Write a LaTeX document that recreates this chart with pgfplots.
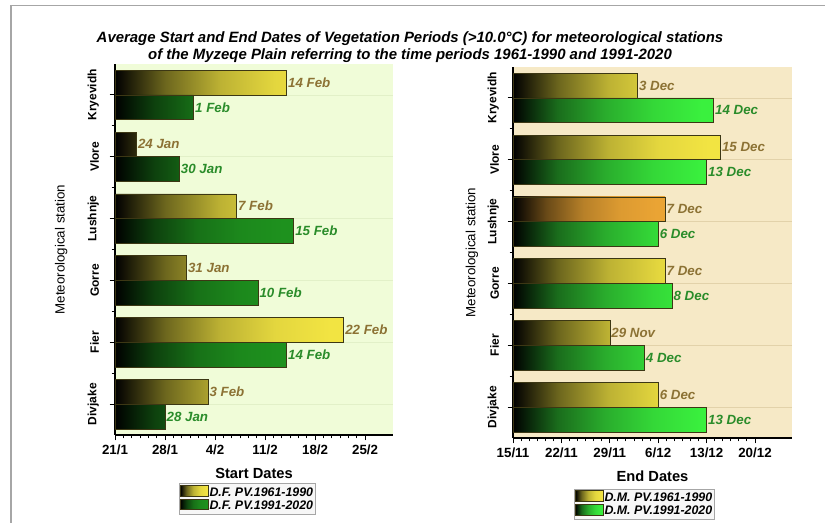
\documentclass[border=0pt]{standalone}
\usepackage{pgfplots}
\pgfplotsset{compat=1.18}
\usepackage{fontspec}
\setmainfont{Liberation Sans}

\definecolor{bgL}{RGB}{240,252,216}
\definecolor{bgR}{RGB}{246,233,198}
\definecolor{gridL}{RGB}{226,240,200}
\definecolor{gridR}{RGB}{226,210,170}
\definecolor{yel}{RGB}{242,228,66}
\definecolor{dgreen}{RGB}{30,145,30}
\definecolor{lgreen}{RGB}{58,240,62}
\definecolor{orng}{RGB}{234,164,52}
\definecolor{lblB}{RGB}{140,114,52}
\definecolor{lblG}{RGB}{42,140,42}
\definecolor{edge}{RGB}{60,55,20}

% black on the left, the colour over most of the bar
\pgfdeclarehorizontalshading{yshade}{100bp}{color(0bp)=(black); color(25bp)=(black); color(36bp)=(yel!45!black); color(48bp)=(yel!78!black); color(60bp)=(yel!94!black); color(72bp)=(yel); color(100bp)=(yel)}
\pgfdeclarehorizontalshading{gshade}{100bp}{color(0bp)=(black); color(25bp)=(black); color(36bp)=(dgreen!45!black); color(48bp)=(dgreen!78!black); color(60bp)=(dgreen!94!black); color(72bp)=(dgreen); color(100bp)=(dgreen)}
\pgfdeclarehorizontalshading{lgshade}{100bp}{color(0bp)=(black); color(25bp)=(black); color(36bp)=(lgreen!45!black); color(48bp)=(lgreen!72!black); color(60bp)=(lgreen!90!black); color(72bp)=(lgreen); color(100bp)=(lgreen)}
\pgfdeclarehorizontalshading{oshade}{100bp}{color(0bp)=(black); color(25bp)=(black); color(36bp)=(orng!45!black); color(48bp)=(orng!78!black); color(60bp)=(orng!94!black); color(72bp)=(orng); color(100bp)=(orng)}

\pgfplotsset{
  vegbase/.style={
    scale only axis, width=208.5pt, height=278.25pt,
    xbar, bar width=0.4,
    ymin=-0.5, ymax=5.5,
    ytick={0,...,5},
    yticklabels={Divjake,Fier,Gorre,Lushnje,Vlore,Kryevidh},
    minor y tick num=1,
    xmin=0, xtick={0,7,...,35}, minor x tick num=5,
    axis x line*=bottom, axis y line*=left,
    axis line style={line width=0.8pt,-},
    tick align=outside, major tick length=4pt, minor tick length=2.5pt,
    every tick/.style={black,line width=0.7pt},
    ymajorgrids,
    x tick label style={font=\bfseries\fontsize{10}{12}\selectfont},
    y tick label style={rotate=90, anchor=south, font=\bfseries\fontsize{9}{11}\selectfont},
    ylabel={Meteorological station},
    ylabel style={font=\fontsize{10}{12}\selectfont},
    xlabel style={font=\bfseries\fontsize{11}{13}\selectfont},
    legend style={anchor=center, draw=gray!70, fill=gray!6,
      font=\bfseries\itshape\fontsize{9.3}{10}\selectfont,
      inner sep=1pt, row sep=0pt, nodes={inner sep=0.6pt}, cells={anchor=west}},
    legend image code/.code={\draw[##1] (0pt,-2.5pt) rectangle (21pt,5.5pt);},
    nodes near coords, point meta=explicit symbolic,
    every node near coord/.append style={anchor=west, font=\bfseries\itshape\fontsize{10}{12}\selectfont, inner sep=1pt},
    clip=false,
  },
  oldbar/.style={bar shift=0.2, draw=edge, shade, shading=#1,
    every node near coord/.append style={text=lblB}},
  newbar/.style={bar shift=-0.2, draw=edge, shade, shading=#1,
    every node near coord/.append style={text=lblG}},
}

\begin{document}
\begin{tikzpicture}
\path[use as bounding box] (0,0) rectangle (618.75pt,392.25pt);
\draw[gray!70, line width=0.8pt] (8.25pt,0) -- (8.25pt,388pt) -- (618.75pt,388pt);
\node[align=center, font=\bfseries\itshape\fontsize{11.2}{12.6}\selectfont] at (307.5pt,356.8pt)
  {Average Start and End Dates of Vegetation Periods (>10.0\textdegree C) for meteorological stations\\
   of the Myzeqe Plain referring to the time periods 1961-1990 and 1991-2020};

% Start dates, days after 21 Jan
\begin{axis}[vegbase,
    at={(86.25pt,66pt)}, anchor=south west,
    xmax=38.9,
    xticklabels={21/1,28/1,4/2,11/2,18/2,25/2},
    y tick label style={yshift=4.5pt},
    axis background/.style={fill=bgL},
    grid style={gridL, line width=0.6pt},
    xlabel={Start Dates},
    xlabel style={at={(axis description cs:0.5,-0.105)}, anchor=center},
    ylabel style={at={(axis description cs:-0.194,0.5)}, anchor=center},
    legend style={at={(0.475,-0.172)}},
]
\addplot[oldbar=yshade]
  coordinates {(13,0) [3 Feb] (32,1) [22 Feb] (10,2) [31 Jan] (17,3) [7 Feb] (3,4) [24 Jan] (24,5) [14 Feb]};
\addlegendentry{D.F. PV.1961-1990}
\addplot[newbar=gshade]
  coordinates {(7,0) [28 Jan] (24,1) [14 Feb] (20,2) [10 Feb] (25,3) [15 Feb] (9,4) [30 Jan] (11,5) [1 Feb]};
\addlegendentry{D.F. PV.1991-2020}
\end{axis}

% End dates, days after 15 Nov
\begin{axis}[vegbase,
    at={(384.75pt,63.75pt)}, anchor=south west, width=209.25pt,
    xmax=40.35,
    xticklabels={15/11,22/11,29/11,6/12,13/12,20/12},
    y tick label style={yshift=3pt},
    axis background/.style={fill=bgR},
    grid style={gridR, line width=0.6pt},
    xlabel={End Dates},
    xlabel style={at={(axis description cs:0.5,-0.102)}, anchor=center},
    ylabel style={at={(axis description cs:-0.147,0.5)}, anchor=center},
    legend style={at={(0.47,-0.178)}},
]
\addplot[oldbar=yshade]
  coordinates {(21,0) [6 Dec] (14,1) [29 Nov] (22,2) [7 Dec] (30,4) [15 Dec] (18,5) [3 Dec]};
\addlegendentry{D.M. PV.1961-1990}
\addplot[newbar=lgshade]
  coordinates {(28,0) [13 Dec] (19,1) [4 Dec] (23,2) [8 Dec] (21,3) [6 Dec] (28,4) [13 Dec] (29,5) [14 Dec]};
\addlegendentry{D.M. PV.1991-2020}
\addplot[forget plot, oldbar=oshade]
  coordinates {(22,3) [7 Dec]};
\end{axis}
\end{tikzpicture}
\end{document}
